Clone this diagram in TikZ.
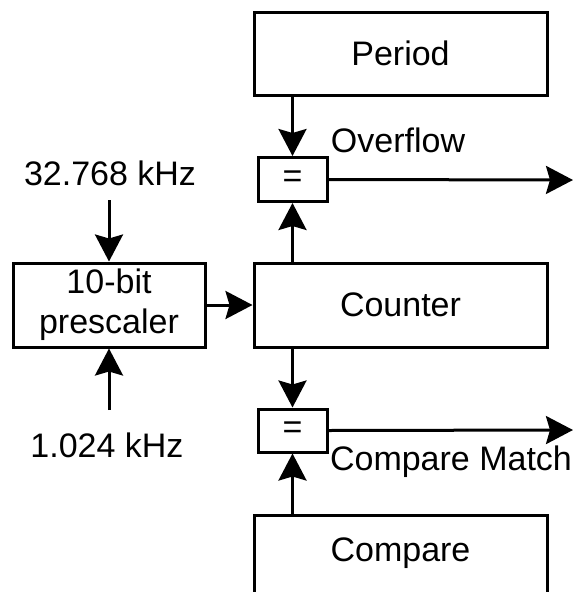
\documentclass[tikz,border=0pt]{standalone}
\usepackage{fontspec}
\setmainfont{Liberation Sans}
\usetikzlibrary{arrows.meta,positioning}

\begin{document}
\begin{tikzpicture}[x=1pt,y=-1pt,
    blk/.style={draw, line width=3pt, minimum width=293pt, inner sep=0pt, font=\fontsize{34}{40}\selectfont},
    eqbox/.style={draw, line width=3pt, minimum width=69pt, minimum height=44pt, inner sep=0pt, font=\fontsize{34}{40}\selectfont},
    lbl/.style={inner sep=0pt, font=\fontsize{34}{40}\selectfont},
    arr/.style={line width=3pt, -{Stealth[length=27pt, width=28pt, inset=4pt]}}]
            \useasboundingbox (0,0) rectangle (574,592);

            % Period
            \node[blk, minimum height=83pt] (per) at (400.5,53.5) {Period};
            \node[eqbox] (eq1) at (292.5,179.5) {=};
            \node[lbl] (ovfl) at (398,140) {Overflow};
            \coordinate (ovf) at (573,180);

            % Counter
            \node[blk, minimum height=84pt] (cnt) at (400.5,305) {Counter};

            % Prescaler
            \node[blk, minimum width=192pt, minimum height=84pt, align=center] (pre) at (109,305) {10-bit\\prescaler};
            \node[lbl] (f32) at (110,173) {32.768 kHz};
            \node[lbl] (f1) at (107,445) {1.024 kHz};
            \coordinate (f32e) at (109,200);
            \coordinate (f1e) at (109,410);

            % Compare
            \node[eqbox, minimum height=43pt] (eq2) at (292.5,430.5) {=};
            \node[lbl] (cmlbl) at (451,462) {Compare Match};
            \coordinate (cm) at (573,430);
            \node[blk, minimum height=90pt] (cmpr) at (400.5,560) {};
            \node[lbl] at (400.5,553) {Compare};

            % Arrows
            \draw[arr] (eq1 |- per.south) -- (eq1.north);
            \draw[arr] (eq1 |- cnt.north) -- (eq1.south);
            \draw[arr] (eq1.east) -- (ovf);
            \draw[arr] (pre.east) -- (cnt.west);
            \draw[arr] (f32e) -- (pre.north);
            \draw[arr] (f1e) -- (pre.south);
            \draw[arr] (eq2 |- cnt.south) -- (eq2.north);
            \draw[arr] (eq2 |- cmpr.north) -- (eq2.south);
            \draw[arr] (eq2.east) -- (cm);
\end{tikzpicture}
\end{document}
